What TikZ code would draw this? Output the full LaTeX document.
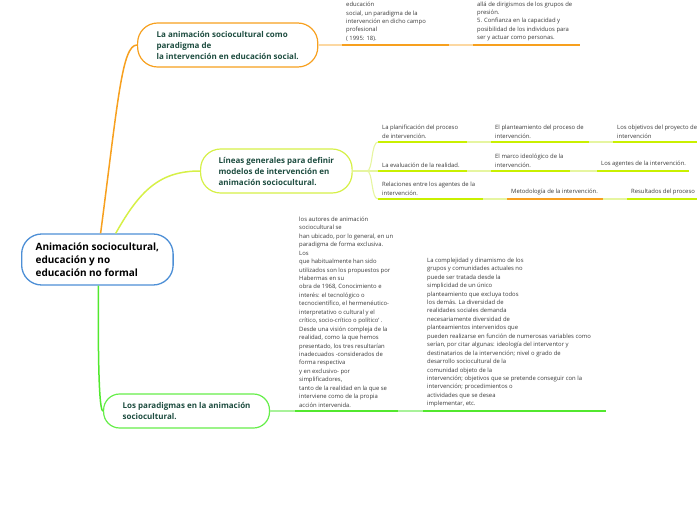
\documentclass[tikz,border=0pt]{standalone}
\usepackage{fontspec}
\setmainfont{Open Sans}
\definecolor{orangeA}{HTML}{F7A01E}
\definecolor{orangeL}{HTML}{FCD8A2}
\definecolor{limeA}{HTML}{C9F000}
\definecolor{limeB}{HTML}{D6F047}
\definecolor{limeL}{HTML}{E6F5A0}
\definecolor{greenA}{HTML}{52E82E}
\definecolor{greenB}{HTML}{66EE4A}
\definecolor{greenL}{HTML}{A8F29A}
\definecolor{rootblue}{HTML}{4D8FD6}
\definecolor{topictext}{HTML}{1E4D40}
\definecolor{leaftext}{HTML}{3A3A3A}
\tikzset{
  topic/.style={draw=#1, line width=1.2pt, fill=white, anchor=west, align=left,
    inner xsep=18pt, inner ysep=0pt, text=topictext,
    font=\bfseries\fontsize{8}{11}\selectfont},
  leaf/.style={anchor=south west, align=left, inner xsep=4pt, inner ysep=3.5pt,
    text=leaftext, font=\fontsize{5.9}{8.45}\selectfont},
  ul/.style={draw=#1, line width=1.4pt},
  ln/.style={draw=#1, line width=1.1pt},
}
\begin{document}
\begin{tikzpicture}[x=1pt,y=-1pt]
\useasboundingbox (0,0) rectangle (697,520);

% main topics
\node (root) at (21,259.5) [topic=rootblue, line width=1.3pt, rounded corners=20pt,
  minimum height=51pt, inner xsep=14pt, text=black,
  font=\bfseries\fontsize{10}{13}\selectfont]
  {Animación sociocultural,\\educación y no\\educación no formal};
\node (paradigma) at (137,45) [topic=orangeA, rounded corners=20pt, minimum height=44pt, inner xsep=19pt]
  {La animación sociocultural como\\paradigma de\\la intervención en educación social.};
\node (lineas) at (200,171) [topic=limeB, rounded corners=20pt, minimum height=44pt]
  {Líneas generales para definir\\modelos de intervención en\\animación sociocultural.};
\node (paradigmas) at (103,411) [topic=greenB, rounded corners=16pt, minimum height=34pt, inner xsep=19pt]
  {Los paradigmas en la animación\\sociocultural.};

\draw[ln=orangeA, line width=1.5pt] (root.83) .. controls (118,100) and (122,45) .. (paradigma.west);
\draw[ln=limeB, line width=1.5pt] (root.55) .. controls (140,190) and (160,171) .. (lineas.west);
\draw[ln=greenA, line width=1.5pt] (root.-88) .. controls (98,360) and (99,411) .. (paradigmas.west);

% paradigma de la intervencion
\node (t1) at (342,45) [leaf] {educación\\social, un paradigma de la\\intervención en dicho campo\\profesional\\( 1995: 18).};
\node (t2) at (473,45) [leaf] {allá de dirigismos de los grupos de\\presión.\\5. Confianza en la capacidad y\\posibilidad de los individuos para\\ser y actuar como personas.};

% lineas generales
\node (a1) at (378,142) [leaf] {La planificación del proceso\\de intervención.};
\node (a2) at (491,142) [leaf] {El planteamiento del proceso de\\intervención.};
\node (a3) at (613,142) [leaf] {Los objetivos del proyecto de\\intervención};
\node (b1) at (378,171) [leaf] {La evaluación de la realidad.};
\node (b2) at (491,171) [leaf] {El marco ideológico de la\\intervención.};
\node (b3) at (597,171) [leaf] {Los agentes de la intervención.};
\node (c1) at (378,199) [leaf] {Relaciones entre los agentes de la\\intervención.};
\node (c2) at (507,199) [leaf] {Metodología de la intervención.};
\node (c3) at (627,199) [leaf] {Resultados del proceso};

% los paradigmas
\node (p1) at (295,411) [leaf] {los autores de animación\\sociocultural se\\han ubicado, por lo general, en un\\paradigma de forma exclusiva.\\Los\\que habitualmente han sido\\utilizados son los propuestos por\\Habermas en su\\obra de 1968, Conocimiento e\\interés: el tecnológico o\\tecnocientífico, el hermenéutico-\\interpretativo o cultural y el\\crítico, socio-crítico o político' .\\Desde una visión compleja de la\\realidad, como la que hemos\\presentado, los tres resultarían\\inadecuados -considerados de\\forma respectiva\\y en exclusivo- por\\simplificadores,\\tanto de la realidad en la que se\\interviene como de la propia\\acción intervenida.};
\node (p2) at (423,411) [leaf] {La complejidad y dinamismo de los\\grupos y comunidades actuales no\\puede ser tratada desde la\\simplicidad de un único\\planteamiento que excluya todos\\los demás. La diversidad de\\realidades sociales demanda\\necesariamente diversidad de\\planteamientos intervenidos que\\pueden realizarse en función de numerosas variables como\\serían, por citar algunas: ideología del interventor y\\destinatarios de la intervención; nivel o grado de\\desarrollo sociocultural de la\\comunidad objeto de la\\intervención; objetivos que se pretende conseguir con la\\intervención; procedimientos o\\actividades que se desea\\implementar, etc.};

% underlines
\foreach \n/\e/\c in {t1/449/orangeA, t2/580/orangeA,
    a1/467/limeA, a2/589/limeA, a3/720/limeA,
    b1/467/limeA, b2/570/limeA, b3/689/limeA,
    c1/483/limeA, c2/603/orangeA, c3/720/limeA,
    p1/398/greenA, p2/606/greenA}
  \draw[ul=\c] (\n.south west) -- (\n.south west -| \e,0);

% light connectors
\draw[ln=orangeL] (paradigma.east) -- (t1.south west);
\draw[ln=orangeL] (t1.south west -| 449,0) -- (t2.south west);

\coordinate (fork) at (367,171);
\draw[ln=limeL] (lineas.east) -- (fork);
\draw[ln=limeL] (fork) .. controls (373,171) and (371,142) .. (a1.south west);
\draw[ln=limeL] (fork) -- (b1.south west);
\draw[ln=limeL] (fork) .. controls (373,171) and (371,199) .. (c1.south west);
\draw[ln=limeL] (a1.south west -| 467,0) -- (a2.south west);
\draw[ln=limeL] (a2.south west -| 589,0) -- (a3.south west);
\draw[ln=limeL] (b1.south west -| 467,0) -- (b2.south west);
\draw[ln=limeL] (b2.south west -| 570,0) -- (b3.south west);
\draw[ln=limeL] (c1.south west -| 483,0) -- (c2.south west);
\draw[ln=limeL] (c2.south west -| 603,0) -- (c3.south west);

\draw[ln=greenL] (paradigmas.east) -- (p1.south west);
\draw[ln=greenL] (p1.south west -| 398,0) -- (p2.south west);
\end{tikzpicture}
\end{document}
